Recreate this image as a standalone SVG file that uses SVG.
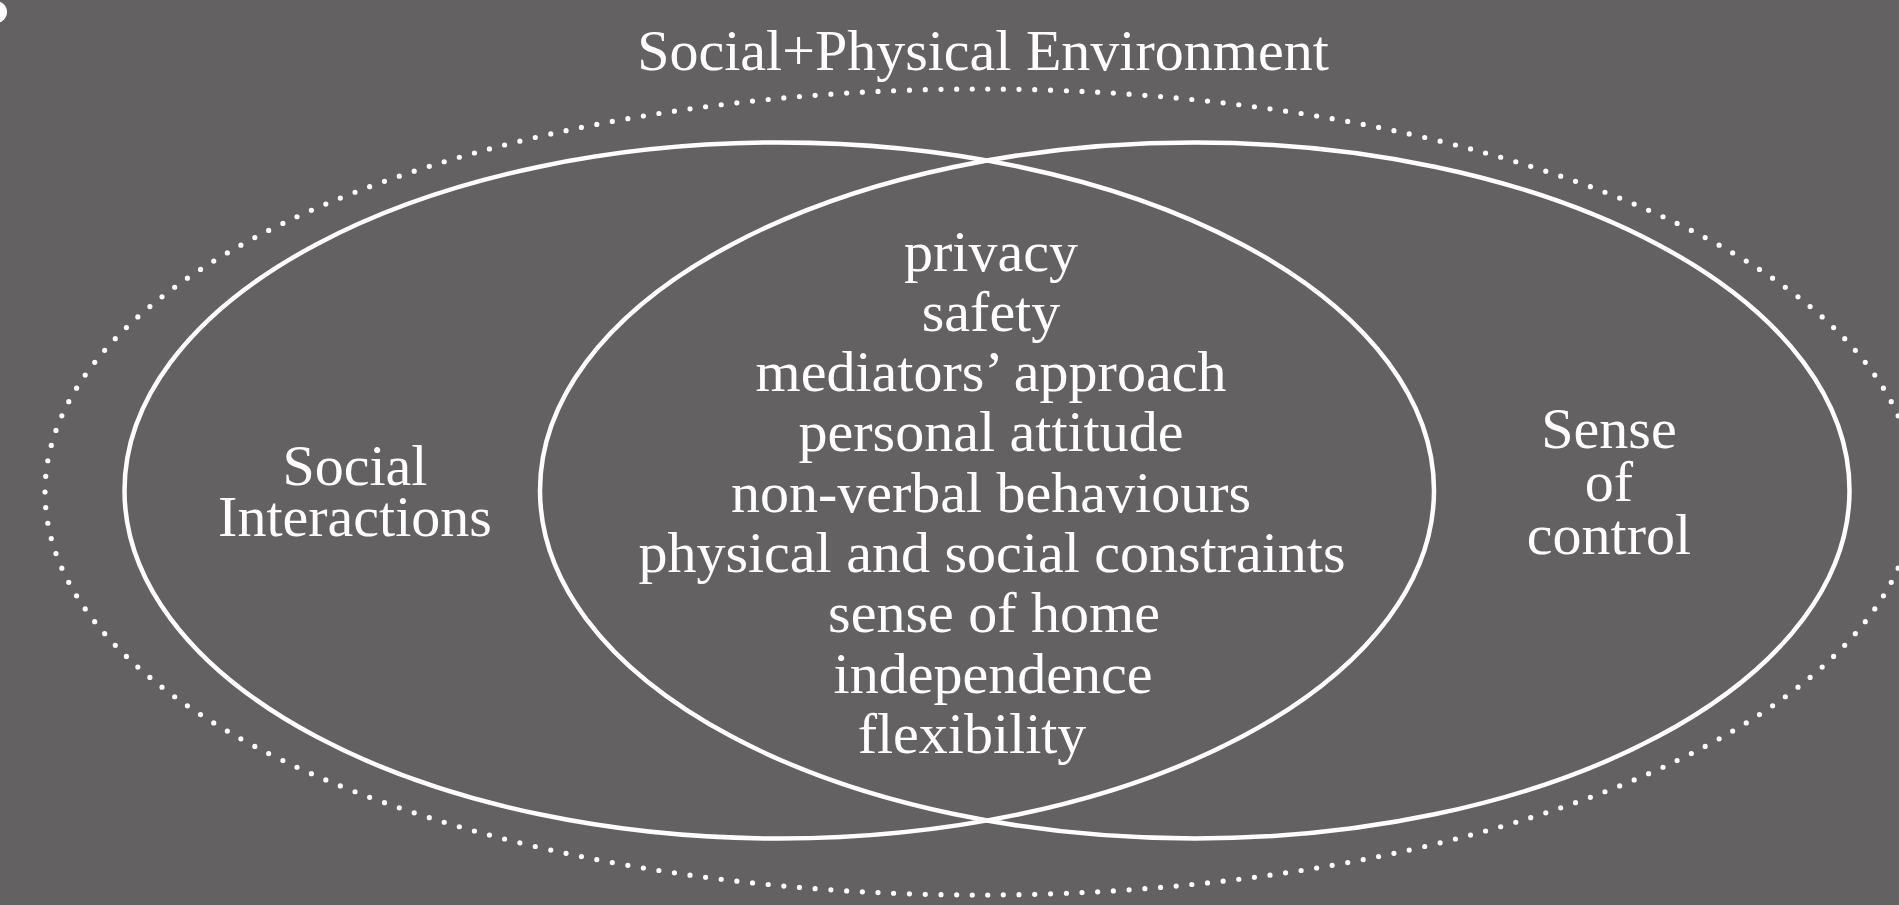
<svg xmlns="http://www.w3.org/2000/svg" width="1899" height="905" viewBox="0 0 1899 905">
  <style>
    .bg { fill: #636162; }
    .ring { fill: none; stroke: #ffffff; stroke-width: 4.5; }
    .dots { fill: none; stroke: #ffffff; stroke-width: 5.2; stroke-linecap: round; stroke-dasharray: 0 1; }
    .lbl { font-family: "Liberation Serif", "Times New Roman", serif; font-size: 58px; fill: #ffffff; text-anchor: middle; }
  </style>

  <rect class="bg" x="0" y="0" width="1899" height="905"/>
  <circle cx="-4" cy="12" r="11" fill="#ffffff"/>

  <!-- outer boundary: social + physical environment -->
  <g id="environment">
    <ellipse class="dots" cx="980" cy="492" rx="935" ry="403" pathLength="278"/>
    <text class="lbl" x="983" y="70">Social+Physical Environment</text>
  </g>

  <!-- two overlapping sets -->
  <g id="social-interactions">
    <ellipse class="ring" cx="779.25" cy="490.5" rx="654.75" ry="348"/>
    <text class="lbl" x="355" y="485">Social</text>
    <text class="lbl" x="355" y="536">Interactions</text>
  </g>

  <g id="sense-of-control">
    <ellipse class="ring" cx="1194.75" cy="490.5" rx="654.75" ry="348"/>
    <text class="lbl" x="1609" y="448">Sense</text>
    <text class="lbl" x="1609" y="501">of</text>
    <text class="lbl" x="1609" y="554">control</text>
  </g>

  <!-- shared factors in the overlap -->
  <g id="overlap">
    <text class="lbl" x="991" y="270.5">privacy</text>
    <text class="lbl" x="991" y="330.8">safety</text>
    <text class="lbl" x="991" y="391.1">mediators’ approach</text>
    <text class="lbl" x="991" y="451.4">personal attitude</text>
    <text class="lbl" x="991" y="511.7">non-verbal behaviours</text>
    <text class="lbl" x="992" y="572">physical and social constraints</text>
    <text class="lbl" x="994" y="632.3">sense of home</text>
    <text class="lbl" x="993" y="692.6">independence</text>
    <text class="lbl" x="972" y="752.9">flexibility</text>
  </g>
</svg>
